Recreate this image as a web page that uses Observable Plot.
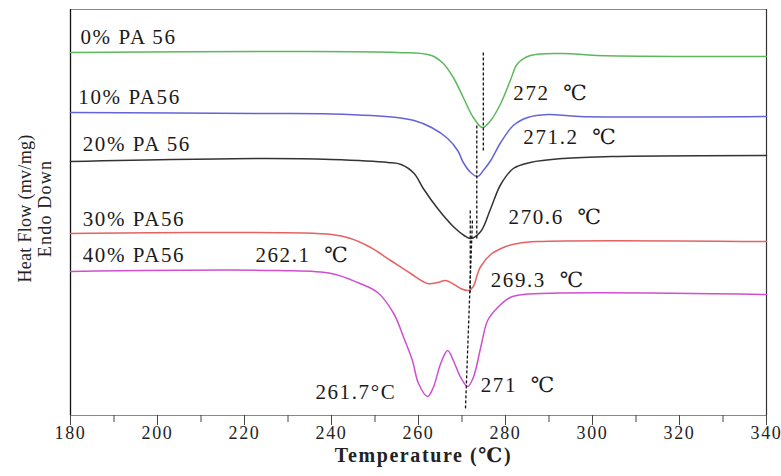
<!DOCTYPE html>
<html><head><meta charset="utf-8">
<script src="https://cdn.jsdelivr.net/npm/d3@7"></script>
<script src="https://cdn.jsdelivr.net/npm/@observablehq/plot@0.6"></script>
<style>
body{margin:0;background:#fff}
#chart svg, #chart svg text { font-family: "Liberation Serif", "Times New Roman", "DejaVu Serif", serif !important; }
</style>
</head><body><div id="chart"></div>
<script>
// Temperature (°C), heat flow (arbitrary units, curves offset)
const pa0 = [[180,363],[228,364],[255,363],[263,360],[265.7,352],[268,338],[270.3,318],[272.6,298],[274.7,288],[276.6,295],[278.9,312],[281.1,335],[282.8,352],[285.7,360],[293.3,362],[301,360],[340,359]];
const pa10 = [[180,303],[225,302],[240,301.5],[255,298],[259,295],[263,288],[266.7,277],[269,265],[270.3,253],[272,243],[273.6,239],[274.9,245],[276.6,255],[278.9,273],[281.8,290],[285.1,298],[289.7,301],[297,299],[340,299]];
const pa20 = [[180,254],[225,257],[240,256],[253,253],[256,251],[259,242],[261.1,227],[264.4,207],[268,189],[270.5,180],[272,177],[274.3,184],[276.6,207],[278.9,231],[281.8,247],[285.7,253],[293.3,257],[305,259],[340,260]];
const pa30 = [[180,182],[210,183],[240,181],[244.4,177],[249,168],[253.6,155],[258.2,142],[262.1,132],[264.4,133],[266.2,135],[267.8,132],[269.7,127],[271.5,125],[272.6,129],[273.6,142],[274.3,149],[276.6,161],[279.5,168],[282.8,172],[287.4,174],[340,174]];
const pa40 = [[180,144],[228,145],[240,142],[246,133],[250.6,123],[254.3,102],[256.6,78],[258.6,55],[260,32],[262.1,19],[263.4,28],[265.1,52],[266.7,65],[268,55],[269.7,38],[271.3,29],[272.6,38],[274.3,68],[275.9,95],[278.2,108],[281.1,118],[284.1,121],[340,121]];

const seriesNames = ["0% PA 56", "10% PA56", "20% PA 56", "30% PA56", "40% PA56"];
const seriesColors = ["#5cb85c", "#6464d8", "#333333", "#e46262", "#d04fd0"];
const seriesPoints = [pa0, pa10, pa20, pa30, pa40];

// series name labels (left)
const nameT = [182.3, 181.8, 182.8, 182.8, 182.8];
const nameV = [378, 318, 271, 196, 160];

// peak annotations
const peakText = ["272\u00a0\u00a0\u2103", "271.2\u00a0\u00a0\u2103", "270.6\u00a0\u00a0\u2103", "262.1\u00a0\u00a0\u2103", "269.3\u00a0\u00a0\u2103", "261.7°C", "271\u00a0\u00a0\u2103"];
const peakT = [281.8, 284.1, 280.7, 222.5, 276.6, 236.3, 274.3];
const peakV = [322, 278, 198, 160, 135, 23, 30];

// dashed reference lines
const dashT1 = [274.9, 273.4, 271.9, 272.4];
const dashV1 = [363, 290, 205, 195];
const dashT2 = [274.9, 273.4, 271.9, 270.8];
const dashV2 = [263, 177, 123, 7];

const majorTicks = [180, 200, 220, 240, 260, 280, 300, 320, 340];
const minorTicks = [190, 210, 230, 250, 270, 290, 310, 330];

const rows = [];
seriesPoints.forEach((pts, i) => pts.forEach(([t, v]) => rows.push({t, v, s: seriesNames[i]})));
const names = seriesNames.map((n, i) => ({label: n, t: nameT[i], v: nameV[i]}));
const peaks = peakText.map((l, i) => ({label: l, t: peakT[i], v: peakV[i]}));
const dashes = dashT1.map((t, i) => ({x1: t, y1: dashV1[i], x2: dashT2[i], y2: dashV2[i]}));

const plot = Plot.plot({
  width: 781, height: 476,
  marginLeft: 70, marginRight: 15, marginTop: 9, marginBottom: 61,
  style: {fontFamily: "Liberation Serif, serif", fontSize: "18px", letterSpacing: "1.6px", color: "#222", background: "#fff"},
  x: {domain: [180, 340], axis: null},
  y: {domain: [0, 406], axis: null},
  color: {domain: seriesNames, range: seriesColors},
  marks: [
    Plot.frame({stroke: "#888"}),
    Plot.ruleX([180], {stroke: "#111", strokeWidth: 1.3}),
    Plot.ruleX([340], {stroke: "#333", strokeWidth: 1.2}),
    Plot.line(rows, {x: "t", y: "v", z: "s", stroke: "s", strokeWidth: 1.5, curve: "catmull-rom"}),
    Plot.link(dashes, {x1: "x1", y1: "y1", x2: "x2", y2: "y2", stroke: "#111", strokeWidth: 1.3, strokeDasharray: "3,2"}),
    Plot.axisX({ticks: majorTicks, tickSize: 10, tickPadding: 1, fontSize: 18, stroke: "#444", fill: "#222", label: null}),
    Plot.axisX({ticks: minorTicks, tickSize: 7, tickFormat: () => "", stroke: "#444", label: null}),
    Plot.text(names, {x: "t", y: "v", text: "label", textAnchor: "start", fontSize: 21, fill: "#1a1a1a"}),
    Plot.text(peaks, {x: "t", y: "v", text: "label", textAnchor: "start", fontSize: 21, fill: "#1a1a1a"}),
    Plot.text(["Temperature (\u2103)"], {frameAnchor: "bottom", dx: 5, dy: 46, fontSize: 20, fontWeight: "bold", fill: "#222"}),
    Plot.text(["Heat Flow (mv/mg)"], {frameAnchor: "left", textAnchor: "middle", lineAnchor: "middle", dx: -45, dy: -4, rotate: -90, fontSize: 18, fill: "#222", className: "ytitle1"}),
    Plot.text(["Endo Down"], {frameAnchor: "left", textAnchor: "middle", lineAnchor: "middle", dx: -25, dy: -4, rotate: -90, fontSize: 18, fill: "#222", className: "ytitle2"})
  ]
});
plot.querySelectorAll(".ytitle1 text").forEach(t => t.style.letterSpacing = "0.3px");
plot.querySelectorAll(".ytitle2 text").forEach(t => t.style.letterSpacing = "1.2px");
document.getElementById("chart").appendChild(plot);
</script>
</body></html>
